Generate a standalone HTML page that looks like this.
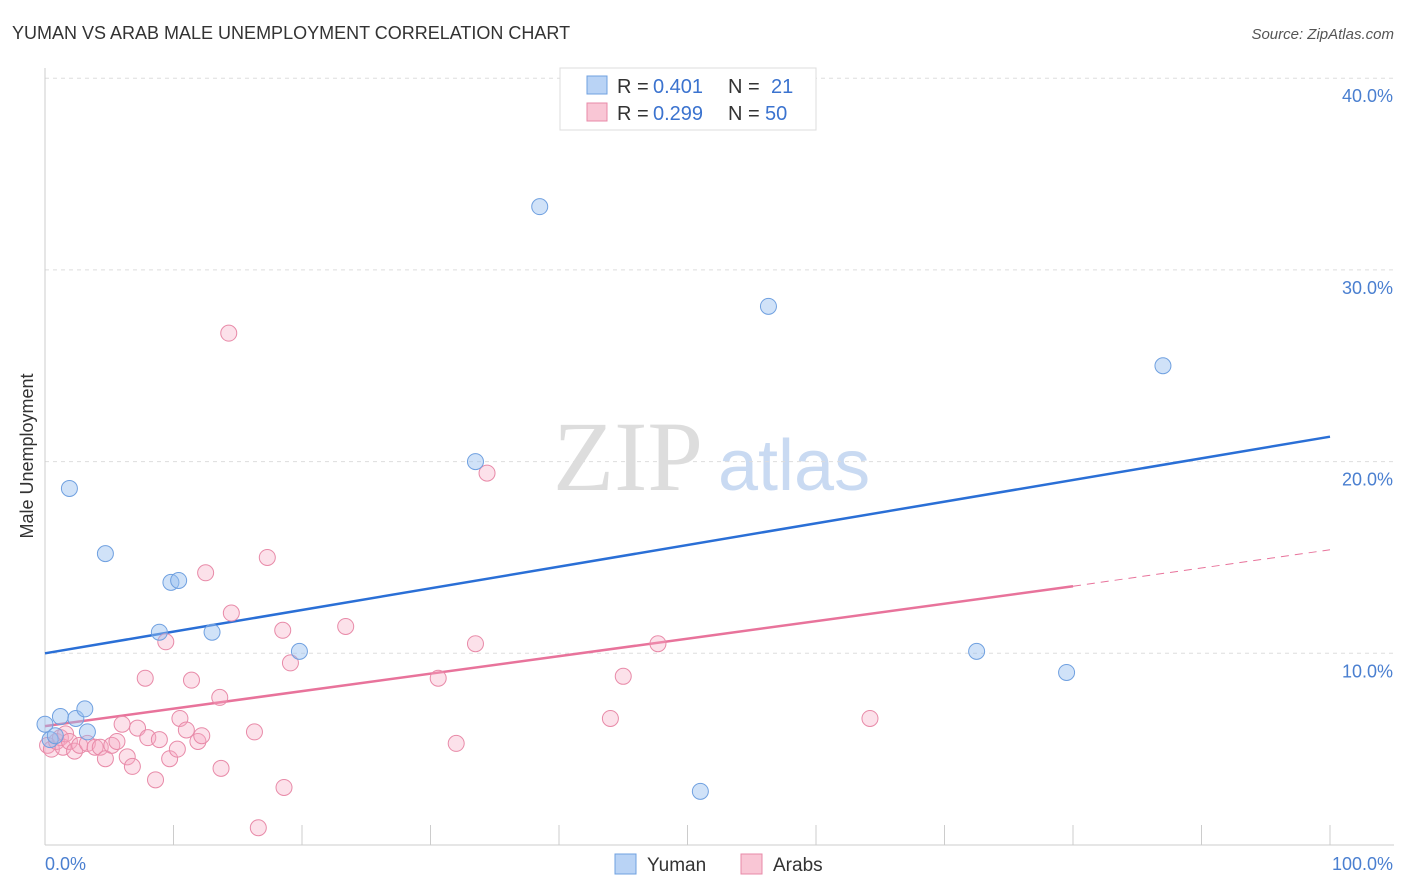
<!DOCTYPE html>
<html><head><meta charset="utf-8"><style>
body{margin:0;background:#fff;font-family:"Liberation Sans",sans-serif;}
svg{display:block}
</style></head><body>
<svg id="chart" width="1406" height="892" viewBox="0 0 1406 892">
<text x="12" y="39" font-size="18" fill="#333">YUMAN VS ARAB MALE UNEMPLOYMENT CORRELATION CHART</text>
<text x="1394" y="39" font-size="15" fill="#555" text-anchor="end" font-style="italic">Source: ZipAtlas.com</text>
<text x="553" y="490" font-size="100" fill="#ddd" font-family="Liberation Serif">ZIP</text>
<text x="718" y="490" font-size="72" fill="#c9daf2">atlas</text>
<text transform="translate(33,456) rotate(-90)" font-size="18" fill="#333" text-anchor="middle">Male Unemployment</text>
<g id="grid"></g><g id="axes"></g><g id="lines"></g><g id="points"></g>
<g>
<rect x="560" y="68" width="256" height="62" fill="#fff" stroke="#ddd"/>
<rect x="587" y="76" width="20" height="18" fill="#b9d3f5" stroke="#6fa0e0"/>
<text x="617" y="93" font-size="20" fill="#333">R =</text>
<text x="653" y="93" font-size="20" fill="#3b73cf">0.401</text>
<text x="728" y="93" font-size="20" fill="#333">N =</text>
<text x="771" y="93" font-size="20" fill="#3b73cf">21</text>
<rect x="587" y="103" width="20" height="18" fill="#f9c6d5" stroke="#e88aa8"/>
<text x="617" y="120" font-size="20" fill="#333">R =</text>
<text x="653" y="120" font-size="20" fill="#3b73cf">0.299</text>
<text x="728" y="120" font-size="20" fill="#333">N =</text>
<text x="765" y="120" font-size="20" fill="#3b73cf">50</text>
</g>
<g>
<rect x="615" y="854" width="21" height="20" fill="#b9d3f5" stroke="#6fa0e0"/>
<text x="647" y="871" font-size="19" fill="#333">Yuman</text>
<rect x="741" y="854" width="21" height="20" fill="#f9c6d5" stroke="#e88aa8"/>
<text x="773" y="871" font-size="19" fill="#333">Arabs</text>
</g>
</svg>
<script>
const yTicks=[10,20,30,40];
const yTickLabels=["10.0%","20.0%","30.0%","40.0%"];
const yumanX=[0,1.2,1.9,2.4,3.1,3.3,4.7,8.9,9.8,10.4,13,19.8,33.5,38.5,51,56.3,72.5,79.5,87,0.4,0.8];
const yumanY=[6.3,6.7,18.6,6.6,7.1,5.9,15.2,11.1,13.7,13.8,11.1,10.1,20.0,33.3,2.8,28.1,10.1,9.0,25.0,5.5,5.7];
const arabX=[0.2,0.5,0.9,1.2,1.4,1.6,1.9,2.3,2.7,3.3,3.9,4.3,4.7,5.2,5.6,6,6.4,6.8,7.2,7.8,8,8.6,8.9,9.4,9.7,10.3,10.5,11,11.4,11.9,12.2,12.5,13.6,13.7,14.3,14.5,16.3,16.6,17.3,18.5,18.6,19.1,23.4,30.6,32,33.5,34.4,44,45,47.7,64.2];
const arabY=[5.2,5.0,5.4,5.6,5.1,5.8,5.4,4.9,5.2,5.3,5.1,5.1,4.5,5.2,5.4,6.3,4.6,4.1,6.1,8.7,5.6,3.4,5.5,10.6,4.5,5.0,6.6,6.0,8.6,5.4,5.7,14.2,7.7,4.0,26.7,12.1,5.9,0.9,15.0,11.2,3.0,9.5,11.4,8.7,5.3,10.5,19.4,6.6,8.8,10.5,6.6];
const yumanLine=[10.0,21.3];
const arabLine=[6.2,13.5,15.4];
const arabSolidEnd=80;
const X=v=>45+v*12.85, Y=v=>845-v*19.17;
const NS="http://www.w3.org/2000/svg";
function mk(t,a,p){const e=document.createElementNS(NS,t);for(const k in a)e.setAttribute(k,a[k]);document.getElementById(p).appendChild(e);return e;}
yTicks.forEach((t,i)=>{
 const g=mk('line',{x1:45,x2:1394,y1:Y(t),y2:Y(t),stroke:'#ddd','stroke-dasharray':'4,4'},'grid');
 
 
 const l=mk('text',{x:1393,y:Y(t)+24,'font-size':18,fill:'#4a7fd0','text-anchor':'end'},'axes');
 l.textContent=yTickLabels[i];
 
 
});
const ax=mk('line',{x1:45,x2:1394,y1:845,y2:845,stroke:'#ccc'},'axes');


const ay=mk('line',{x1:45,x2:45,y1:68,y2:845,stroke:'#ccc'},'axes');


for(let i=0;i<=10;i++){const t=mk('line',{x1:X(i*10),x2:X(i*10),y1:825,y2:845,stroke:'#ccc'},'axes');
 
 }
[["0.0%",X(0),"start"],["100.0%",X(100)+63,"end"]].forEach(d=>{const t=mk('text',{x:d[1],y:870,'font-size':18,fill:'#4a7fd0','text-anchor':d[2]},'axes');t.textContent=d[0];
 
 });
const l1=mk('line',{x1:X(0),y1:Y(yumanLine[0]),x2:X(100),y2:Y(yumanLine[1]),stroke:'#2a6fd6','stroke-width':2.5},'lines');


const l2=mk('line',{x1:X(0),y1:Y(arabLine[0]),x2:X(arabSolidEnd),y2:Y(arabLine[1]),stroke:'#e8739b','stroke-width':2.5},'lines');


const l3=mk('line',{x1:X(arabSolidEnd),y1:Y(arabLine[1]),x2:X(100),y2:Y(arabLine[2]),stroke:'#e8739b','stroke-width':1,'stroke-dasharray':'8,6'},'lines');


arabX.forEach((v,i)=>{const c=mk('circle',{cx:X(v),cy:Y(arabY[i]),r:8,fill:'rgba(245,170,195,0.35)',stroke:'#e88aa8','stroke-width':1},'points');
 
 });
yumanX.forEach((v,i)=>{const c=mk('circle',{cx:X(v),cy:Y(yumanY[i]),r:8,fill:'rgba(150,190,240,0.45)',stroke:'#6fa0e0','stroke-width':1},'points');
 
 });
</script>
</body></html>
